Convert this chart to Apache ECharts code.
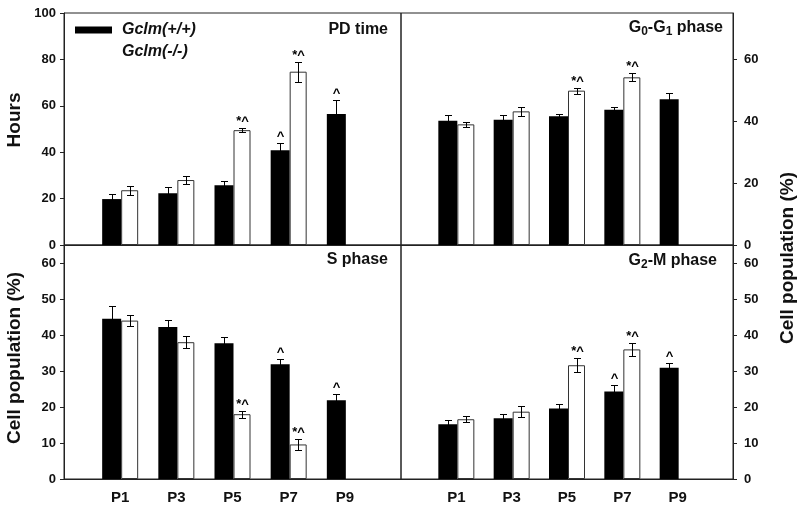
<!DOCTYPE html>
<html><head><meta charset="utf-8">
<script src="https://cdn.jsdelivr.net/npm/echarts@6/dist/echarts.min.js"></script>
<style>html,body{margin:0;padding:0;background:#fff}#c{width:800px;height:514px}</style>
</head><body><div id="c"></div>
<script>
const categories = ['', 'P1', 'P3', 'P5', 'P7', 'P9', ''];
const seriesNames = ['Gclm(+/+)', 'Gclm(-/-)'];

// PD time (hours)
const pdWT     = [null, 19.8, 22.3, 25.8, 40.8, 56.5, null];
const pdWTErr  = [null, 2.2, 2.5, 1.7, 3.1, 6.0, null];
const pdKO     = [null, 23.6, 28.0, 49.5, 74.7, null, null];
const pdKOErr  = [null, 2.0, 1.6, 1.0, 4.3, null, null];
const pdWTMark = ['', '', '', '', '^', '^', ''];
const pdKOMark = ['', '', '', '*^', '*^', '', ''];

// G0-G1 phase (%)
const g1WT     = [null, 40.2, 40.5, 41.6, 43.7, 47.1, null];
const g1WTErr  = [null, 1.7, 1.4, 0.8, 0.8, 2.0, null];
const g1KO     = [null, 39.0, 43.2, 49.9, 54.2, null, null];
const g1KOErr  = [null, 0.8, 1.5, 1.0, 1.3, null, null];
const g1WTMark = ['', '', '', '', '', '', ''];
const g1KOMark = ['', '', '', '*^', '*^', '', ''];

// S phase (%)
const sWT      = [null, 44.5, 42.2, 37.7, 31.9, 21.9, null];
const sWTErr   = [null, 3.6, 2.1, 1.8, 1.4, 1.7, null];
const sKO      = [null, 44.0, 38.0, 18.0, 9.6, null, null];
const sKOErr   = [null, 1.6, 1.7, 1.0, 1.6, null, null];
const sWTMark  = ['', '', '', '', '^', '^', ''];
const sKOMark  = ['', '', '', '*^', '*^', '', ''];

// G2-M phase (%)
const g2WT     = [null, 15.2, 16.9, 19.6, 24.3, 30.9, null];
const g2WTErr  = [null, 1.2, 1.1, 1.2, 1.7, 1.4, null];
const g2KO     = [null, 16.6, 18.7, 31.6, 36.0, null, null];
const g2KOErr  = [null, 0.9, 1.6, 2.0, 1.7, null, null];
const g2WTMark = ['', '', '', '', '^', '^', ''];
const g2KOMark = ['', '', '', '*^', '*^', '', ''];

const FONT = 'Liberation Sans, Arial, sans-serif';
const BW_WT = 19, BW_KO = 17;
const OFF_WT = -(BW_WT + BW_KO) / 2 + BW_WT / 2;
const OFF_KO = -(BW_WT + BW_KO) / 2 + BW_WT + BW_KO / 2;

function errSeries(gi, vals, errs, marks, dx) {
  const data = [], mk = [];
  vals.forEach((v, i) => { if (v != null) { data.push([i, v, errs[i]]); mk.push(marks[i]); } });
  return {
    type: 'custom', xAxisIndex: gi, yAxisIndex: gi, data, z: 5, silent: true,
    renderItem(params, api) {
      const i = api.value(0), v = api.value(1), e = api.value(2);
      const t = api.coord([i, v + e]), b = api.coord([i, v - e]);
      const x = Math.round(t[0] + dx) + 0.5;
      const ty = Math.round(t[1]) + 0.5, by = Math.round(b[1]) + 0.5;
      const st = { stroke: '#000', lineWidth: 1 };
      const ch = [
        { type: 'line', shape: { x1: x, y1: ty, x2: x, y2: by }, style: st },
        { type: 'line', shape: { x1: x - 3.5, y1: ty, x2: x + 3.5, y2: ty }, style: st },
        { type: 'line', shape: { x1: x - 3.5, y1: by, x2: x + 3.5, y2: by }, style: st }
      ];
      const m = mk[params.dataIndex];
      if (m) ch.push({ type: 'text', x: x, y: ty - 7, style: { text: m, fill: '#000', font: 'bold 13px ' + FONT, align: 'center', verticalAlign: 'middle' } });
      return { type: 'group', children: ch };
    }
  };
}

const panels = [
  { wt: pdWT, wte: pdWTErr, ko: pdKO, koe: pdKOErr, wm: pdWTMark, km: pdKOMark },
  { wt: g1WT, wte: g1WTErr, ko: g1KO, koe: g1KOErr, wm: g1WTMark, km: g1KOMark },
  { wt: sWT, wte: sWTErr, ko: sKO, koe: sKOErr, wm: sWTMark, km: sKOMark },
  { wt: g2WT, wte: g2WTErr, ko: g2KO, koe: g2KOErr, wm: g2WTMark, km: g2KOMark }
];

const grids = [
  { left: 64, top: 13, width: 337, height: 232 },
  { left: 401, top: 13, width: 332, height: 232 },
  { left: 64, top: 245, width: 337, height: 234 },
  { left: 401, top: 245, width: 332, height: 234 }
].map(g => Object.assign(g, { show: true, borderColor: '#222', borderWidth: 1, backgroundColor: 'transparent' }));

const labelStyle = { fontFamily: FONT, fontWeight: 'bold', fontSize: 13, color: '#111' };
const yTicks = [[0, 20, 40, 60, 80, 100], [0, 20, 40, 60], [0, 10, 20, 30, 40, 50, 60], [0, 10, 20, 30, 40, 50, 60]];
const yMax = [100, 75, 65, 65];

const yAxes = [0, 1, 2, 3].map(i => ({
  type: 'value', gridIndex: i, min: 0, max: yMax[i],
  position: (i % 2 === 0) ? 'left' : 'right',
  splitLine: { show: false },
  axisLine: { show: true, lineStyle: { color: '#222' } },
  axisTick: { show: true, length: 4, customValues: yTicks[i], lineStyle: { color: '#222' } },
  axisLabel: Object.assign({ customValues: yTicks[i], margin: (i % 2 === 0) ? 8 : 11 }, labelStyle)
}));

const xAxes = [0, 1, 2, 3].map(i => ({
  type: 'category', gridIndex: i, data: categories, boundaryGap: false,
  axisLine: { show: true, lineStyle: { color: '#222' } },
  axisTick: { show: false },
  axisLabel: Object.assign({ show: i >= 2, margin: 11, interval: 0 }, labelStyle, { fontSize: 15 })
}));

const series = [];
panels.forEach((p, i) => {
  series.push({ type: 'bar', name: seriesNames[0], xAxisIndex: i, yAxisIndex: i, data: p.wt, barWidth: BW_WT, barGap: 0, itemStyle: { color: '#000' }, silent: true });
  series.push({ type: 'bar', name: seriesNames[1], xAxisIndex: i, yAxisIndex: i, data: p.ko, barWidth: BW_KO, barGap: 0, itemStyle: { color: '#fff', borderColor: '#333', borderWidth: 1 }, silent: true });
  series.push(errSeries(i, p.wt, p.wte, p.wm, OFF_WT));
  series.push(errSeries(i, p.ko, p.koe, p.km, OFF_KO));
});

function title(x, y, text, rich) {
  return { type: 'text', x, y, z: 10, style: { text, fill: '#111', font: 'bold 16px ' + FONT, fontWeight: 'bold', fontSize: 16, fontFamily: FONT, align: 'right', verticalAlign: 'middle', rich: rich } };
}
const subRich = { s: { fontSize: 12, fontWeight: 'bold', fontFamily: FONT, fill: '#111', padding: [8, 0, 0, 0] } };
function axisTitle(x, y, text) {
  return { type: 'text', x, y, rotation: Math.PI / 2, z: 10, style: { text, fill: '#111', font: 'bold 19px ' + FONT, align: 'center', verticalAlign: 'middle' } };
}

const chart = echarts.init(document.getElementById('c'), null, { renderer: 'canvas' });
chart.setOption({
  animation: false,
  backgroundColor: '#fff',
  grid: grids,
  xAxis: xAxes,
  yAxis: yAxes,
  legend: {
    left: 74, top: 21, padding: 0, orient: 'vertical', itemWidth: 37, itemHeight: 7, itemGap: 4,
    icon: 'rect', selectedMode: false,
    data: [{ name: seriesNames[0] }, { name: seriesNames[1], itemStyle: { opacity: 0 } }],
    textStyle: { fontFamily: FONT, fontSize: 16, fontWeight: 'bold', fontStyle: 'italic', color: '#111', lineHeight: 18, padding: [0, 0, 0, 5] }
  },
  graphic: [
    axisTitle(15, 120, 'Hours'),
    axisTitle(15, 358, 'Cell population (%)'),
    axisTitle(788, 258, 'Cell population (%)'),
    title(388, 30, 'PD time'),
    title(388, 260, 'S phase'),
    title(723, 28, 'G{s|0}-G{s|1} phase', subRich),
    title(717, 261, 'G{s|2}-M phase', subRich)
  ],
  series
});
</script></body></html>
